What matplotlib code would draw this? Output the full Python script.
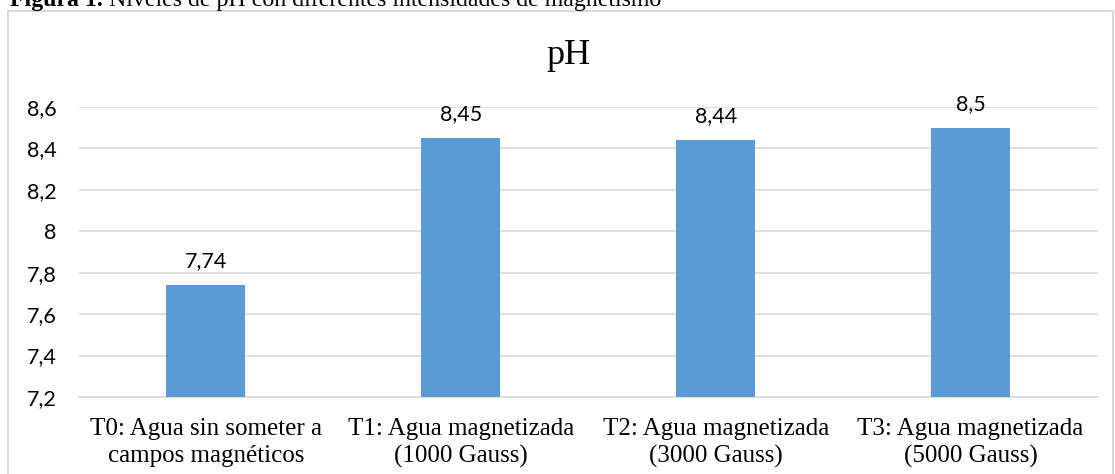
import matplotlib
matplotlib.use("Agg")
import matplotlib.pyplot as plt
from matplotlib.patches import Rectangle

categories = ["T0: Agua sin someter a\ncampos magnéticos",
              "T1: Agua magnetizada\n(1000 Gauss)",
              "T2: Agua magnetizada\n(3000 Gauss)",
              "T3: Agua magnetizada\n(5000 Gauss)"]
values = [7.74, 8.45, 8.44, 8.5]
value_labels = ["7,74", "8,45", "8,44", "8,5"]
yticks = [7.2, 7.4, 7.6, 7.8, 8.0, 8.2, 8.4, 8.6]
ytick_labels = ["7,2", "7,4", "7,6", "7,8", "8", "8,2", "8,4", "8,6"]
title = "pH"
caption_bold = "Figura 1."
caption_rest = " Niveles de pH con diferentes intensidades de magnetismo"

W, H = 1115, 474
fig = plt.figure(figsize=(W / 100, H / 100), dpi=100)

# chart border
fig.patches.append(Rectangle((8 / W, -0.05), (1113 - 8) / W, (H - 10.5) / H + 0.05,
                             transform=fig.transFigure, fill=False,
                             edgecolor="#d9d9d9", linewidth=1.5))

ax = fig.add_axes([78.5 / W, 1 - 397 / H, (1098 - 78.5) / W, (397 - 107) / H])
x = list(range(len(categories)))
ax.bar(x, values, width=0.31, color="#5b9bd5", zorder=3, bottom=0)
ax.set_xlim(-0.5, len(categories) - 0.5)
ax.set_ylim(7.2, 8.6)
ax.set_yticks(yticks)
ax.set_yticklabels(ytick_labels, fontfamily="Lato", fontsize=15.5, color="#000000")
ax.set_xticks(x)
ax.set_xticklabels(categories, fontfamily="Liberation Serif", fontsize=18, linespacing=1.3)
ax.tick_params(axis="both", length=0)
ax.tick_params(axis="y", pad=16)
ax.tick_params(axis="x", pad=15)
ax.grid(axis="y", color="#d9d9d9", linewidth=1.2, zorder=0)
for s in ["top", "right", "left"]:
    ax.spines[s].set_visible(False)
ax.spines["bottom"].set_color("#d9d9d9")
ax.spines["bottom"].set_linewidth(1.2)

for xi, v, lab in zip(x, values, value_labels):
    ax.annotate(lab, (xi, v), xytext=(0, 10), textcoords="offset points",
                ha="center", va="bottom", fontfamily="Lato", fontsize=15.5)

fig.text(568 / W, 1 - 56 / H, title, ha="center", va="center",
         fontfamily="Liberation Serif", fontsize=26)

t1 = fig.text(10 / W, 1 - 6 / H, caption_bold, ha="left", va="baseline",
              fontfamily="Liberation Serif", fontweight="bold", fontsize=17.2)
fig.canvas.draw()
bb = t1.get_window_extent()
fig.text(bb.x1 / W, 1 - 6 / H, caption_rest, ha="left", va="baseline",
         fontfamily="Liberation Serif", fontsize=17.2)

fig.savefig("out.png", dpi=100)
